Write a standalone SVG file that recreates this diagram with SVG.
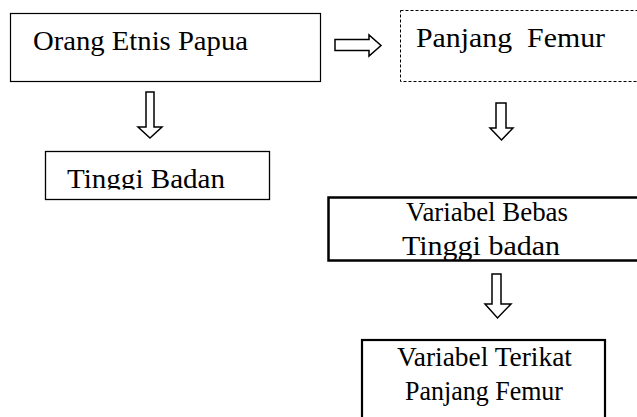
<svg xmlns="http://www.w3.org/2000/svg" width="637" height="417" viewBox="0 0 637 417">
<style>
.t{font-family:'Liberation Serif','Times New Roman','DejaVu Serif',serif;font-size:28px;fill:#000}
.box{fill:#fff;stroke:#000}
.arr{fill:#fff;stroke:#000;stroke-width:1.5;stroke-linejoin:miter}
</style>
<defs>
<clipPath id="clipTB"><rect x="45" y="151" width="225" height="38.5"/></clipPath>
</defs>
<rect width="637" height="417" fill="#fff"/>
<g id="n1">
<rect class="box" x="10.5" y="13.5" width="310" height="68" stroke="#333" stroke-width="1.2"/>
<text class="t" font-family="'Liberation Serif', serif" x="33" y="50" textLength="215" lengthAdjust="spacingAndGlyphs">Orang Etnis Papua</text>
</g>
<g id="n2">
<rect class="box" x="400.5" y="10.5" width="250" height="71" stroke-dasharray="3,2" stroke-width="1"/>
<text class="t" font-family="'Liberation Serif', serif" x="416" y="47" textLength="189" lengthAdjust="spacingAndGlyphs" xml:space="preserve">Panjang  Femur</text>
</g>
<g id="n3">
<rect class="box" x="45.5" y="151.5" width="224" height="48" stroke-width="1.3"/>
<text class="t" font-family="'Liberation Serif', serif" x="67" y="188" textLength="158" lengthAdjust="spacingAndGlyphs" clip-path="url(#clipTB)">Tinggi Badan</text>
</g>
<g id="n4">
<rect class="box" x="328.5" y="197.5" width="320" height="63" stroke-width="2.5"/>
<text class="t" font-family="'Liberation Serif', serif" x="406" y="221" font-size="27" textLength="162" lengthAdjust="spacingAndGlyphs">Variabel Bebas</text>
<text class="t" font-family="'Liberation Serif', serif" x="402" y="255" font-size="27" textLength="158" lengthAdjust="spacingAndGlyphs">Tinggi badan</text>
</g>
<g id="n5">
<rect class="box" x="362" y="340" width="243" height="90" stroke-width="2.2"/>
<text class="t" font-family="'Liberation Serif', serif" x="397" y="366" font-size="27" textLength="175" lengthAdjust="spacingAndGlyphs">Variabel Terikat</text>
<text class="t" font-family="'Liberation Serif', serif" x="405" y="400" font-size="27" textLength="158" lengthAdjust="spacingAndGlyphs">Panjang Femur</text>
</g>
<g id="connectors">
<polygon class="arr" points="335,39.5 369,39.5 369,35 381,45.5 369,56 369,50.5 335,50.5"/>
<polygon class="arr" points="146,92 154,92 154,127 162,127 150,138 138,127 146,127"/>
<polygon class="arr" points="496,103 506,103 506,128 513,128 501.5,140 490,128 496,128"/>
<polygon class="arr" points="492,274 501,274 501,304 511,304 497.5,318 485,304 492,304"/>
</g>
</svg>
